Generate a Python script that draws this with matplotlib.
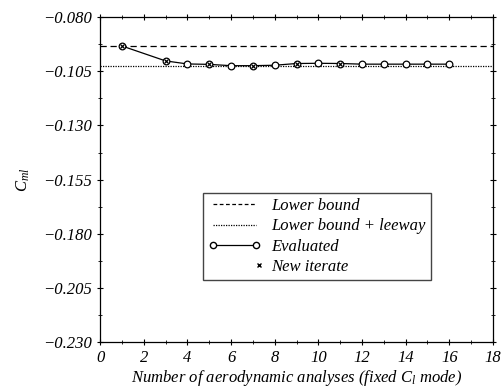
import numpy as np
import matplotlib
matplotlib.use("Agg")
import matplotlib.pyplot as plt
from matplotlib.lines import Line2D
from matplotlib.legend_handler import HandlerLine2D
from matplotlib.ticker import FixedLocator

plt.rcParams['font.family'] = 'Liberation Serif'
plt.rcParams['font.style'] = 'italic'
plt.rcParams['mathtext.fontset'] = 'custom'
plt.rcParams['mathtext.it'] = 'Liberation Serif:italic'
plt.rcParams['mathtext.rm'] = 'Liberation Serif:italic'

# data
n_eval = [1, 3, 4, 5, 6, 7, 8, 9, 10, 11, 12, 13, 14, 15, 16]
cml = [-0.0933, -0.1002, -0.1016, -0.1018, -0.1024, -0.1024, -0.1022,
       -0.1014, -0.1013, -0.1014, -0.1017, -0.1017, -0.1017, -0.1017, -0.1017]
new_iter = [1, 3, 5, 7, 9, 11]
lower_bound = -0.0933
lower_leeway = -0.1027
y_ticks = [-0.230, -0.205, -0.180, -0.155, -0.130, -0.105, -0.080]
x_ticks = [0, 2, 4, 6, 8, 10, 12, 14, 16, 18]


class RightMarkerHandler(HandlerLine2D):
    # single legend marker at the right end of the handle
    def get_xdata(self, legend, xdescent, ydescent, width, height, fontsize):
        x = np.array([-xdescent + width - 2.0])
        return x, x


fig = plt.figure(figsize=(5.03, 3.9), dpi=100)
ax = fig.add_axes([0.199, 0.123, 0.781, 0.833])

ax.axhline(lower_bound, color='black', ls=(0, (5, 3)), lw=0.9)
ax.axhline(lower_leeway, color='black', ls=(0, (1, 1)), lw=0.9)
ax.plot(n_eval, cml, color='black', lw=0.9, marker='o', ms=4.8,
        mfc='white', mec='black', mew=0.9)
iter_y = [cml[n_eval.index(i)] for i in new_iter]
ax.plot(new_iter, iter_y, ls='none', marker='x', ms=3.5, color='black', mew=0.9)

ax.set_xlim(0, 18)
ax.set_ylim(-0.230, -0.080)
ax.set_xticks(x_ticks, [str(v) for v in x_ticks], fontstyle='italic')
ax.set_yticks(y_ticks, ['\u2212%.3f' % abs(v) for v in y_ticks], fontstyle='italic')
ax.xaxis.set_minor_locator(FixedLocator(np.arange(1, 18, 2)))
ax.yaxis.set_minor_locator(FixedLocator(np.array(y_ticks[:-1]) + 0.0125))
ax.tick_params(which='both', direction='inout', top=True, right=True, labelsize=12)
ax.tick_params(which='major', length=5)
ax.tick_params(which='minor', length=3)
for s in ax.spines.values():
    s.set_linewidth(0.9)

ax.set_xlabel('Number of aerodynamic analyses (fixed $C_l$ mode)', fontsize=12, labelpad=1)
ax.set_ylabel('$C_{ml}$', fontsize=12, labelpad=8)

handles = [
    Line2D([], [], color='black', ls=(0, (3, 2)), lw=0.9),
    Line2D([], [], color='black', ls=(0, (1, 1)), lw=0.9),
    Line2D([], [], color='black', lw=0.9, marker='o', ms=4.5, mfc='white', mec='black'),
    Line2D([], [], ls='none', marker='x', ms=3.5, color='black'),
]
labels = ['Lower bound', 'Lower bound + leeway', 'Evaluated', 'New iterate']
leg = ax.legend(handles, labels, loc='upper left', bbox_to_anchor=(0.262, 0.458),
                borderaxespad=0, fontsize=12, numpoints=2, fancybox=False,
                framealpha=1, edgecolor='#444444', handlelength=3.2,
                handletextpad=0.6, labelspacing=0.25, borderpad=0.3,
                handler_map={handles[3]: RightMarkerHandler(numpoints=2)})
leg.get_frame().set_linewidth(1.0)

fig.savefig('out.png', dpi=100)
